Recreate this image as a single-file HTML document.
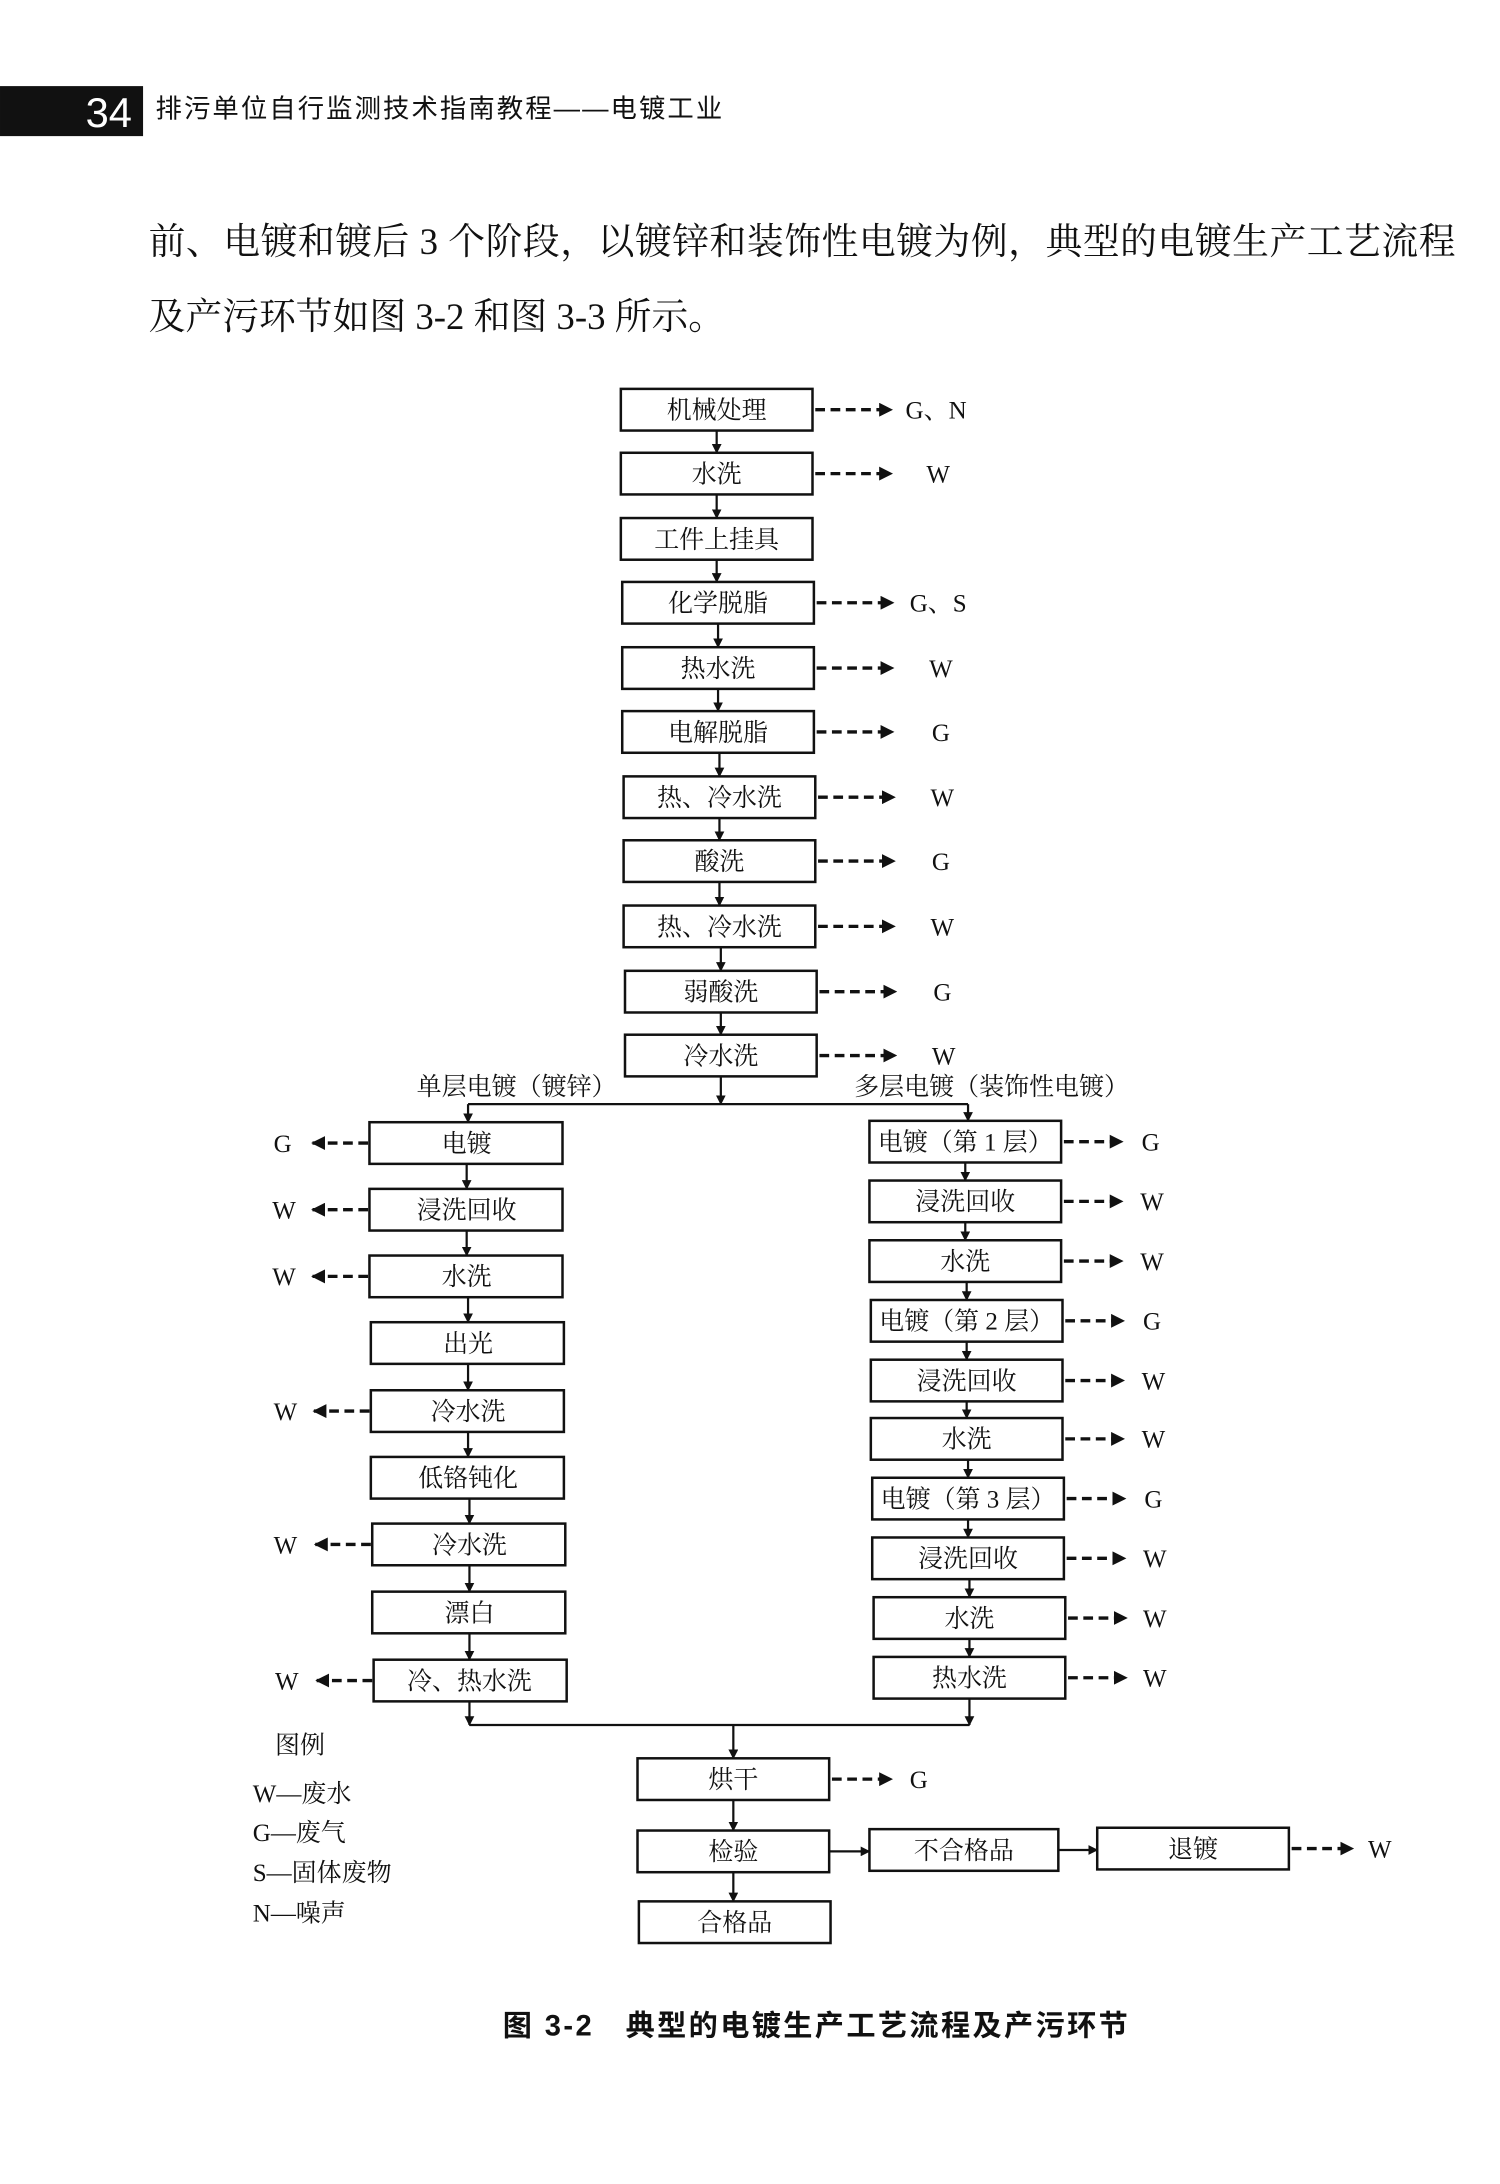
<!DOCTYPE html>
<html><head><meta charset="utf-8"><style>
html,body{margin:0;padding:0;background:#fff;}
svg{display:block;}
.b{font-family:"Liberation Serif","Noto Serif CJK SC",serif;font-size:18px;fill:#111;text-anchor:middle;dominant-baseline:central;}
.l{font-family:"Liberation Serif","Noto Serif CJK SC",serif;font-size:18px;fill:#111;dominant-baseline:central;}
rect{fill:#fff;stroke:#111;stroke-width:1.8;}
line,path.c{stroke:#111;stroke-width:1.6;fill:none;}
.d{stroke-dasharray:7 4;stroke-width:2.4;}
</style></head><body>
<svg width="1500" height="2184" viewBox="0 0 1080 1572.5" xmlns="http://www.w3.org/2000/svg">
<defs><marker id="a" viewBox="0 0 10 10" refX="9" refY="5" markerWidth="7" markerHeight="7" markerUnits="userSpaceOnUse" orient="auto"><path d="M0,0 L10,5 L0,10 z" fill="#111"/></marker>
<marker id="a2" viewBox="0 0 10 10" refX="9" refY="5" markerWidth="10" markerHeight="10" markerUnits="userSpaceOnUse" orient="auto"><path d="M0,0 L10,5 L0,10 z" fill="#111"/></marker></defs>
<rect x="0" y="62" width="103" height="36" style="fill:#111;stroke:none"/>
<text x="95" y="81" style="font-family:'Liberation Sans',sans-serif;font-size:30px;fill:#fff;text-anchor:end;dominant-baseline:central">34</text>
<text x="112" y="78" style="font-family:'Liberation Sans','Noto Sans CJK SC',sans-serif;font-size:19px;fill:#111;dominant-baseline:central" textLength="408">排污单位自行监测技术指南教程——电镀工业</text>
<text x="107" y="174" style="font-family:'Liberation Serif','Noto Serif CJK SC',serif;font-size:26.5px;fill:#111;dominant-baseline:central" textLength="941">前、电镀和镀后 3 个阶段，以镀锌和装饰性电镀为例，典型的电镀生产工艺流程</text>
<text x="107" y="228" style="font-family:'Liberation Serif','Noto Serif CJK SC',serif;font-size:26.5px;fill:#111;dominant-baseline:central">及产污环节如图 3-2 和图 3-3 所示。</text>

<g>
<rect x="447" y="280" width="138" height="30"/><text class="b" x="516" y="296">机械处理</text>
<rect x="447" y="326" width="138" height="30"/><text class="b" x="516" y="342">水洗</text>
<rect x="447" y="373" width="138" height="30"/><text class="b" x="516" y="389">工件上挂具</text>
<rect x="448" y="419" width="138" height="30"/><text class="b" x="517" y="435">化学脱脂</text>
<rect x="448" y="466" width="138" height="30"/><text class="b" x="517" y="482">热水洗</text>
<rect x="448" y="512" width="138" height="30"/><text class="b" x="517" y="528">电解脱脂</text>
<rect x="449" y="559" width="138" height="30"/><text class="b" x="518" y="575">热、冷水洗</text>
<rect x="449" y="605" width="138" height="30"/><text class="b" x="518" y="621">酸洗</text>
<rect x="449" y="652" width="138" height="30"/><text class="b" x="518" y="668">热、冷水洗</text>
<rect x="450" y="699" width="138" height="30"/><text class="b" x="519" y="715">弱酸洗</text>
<rect x="450" y="745" width="138" height="30"/><text class="b" x="519" y="761">冷水洗</text>
</g>
<g marker-end="url(#a)">
<line x1="516" y1="310" x2="516" y2="326"/><line x1="516" y1="356" x2="516" y2="373"/>
<line x1="516" y1="403" x2="516" y2="419"/><line x1="517" y1="449" x2="517" y2="466"/>
<line x1="517" y1="496" x2="517" y2="512"/><line x1="518" y1="542" x2="518" y2="559"/>
<line x1="518" y1="589" x2="518" y2="605"/><line x1="518" y1="635" x2="518" y2="652"/>
<line x1="519" y1="682" x2="519" y2="699"/><line x1="519" y1="729" x2="519" y2="745"/>
</g>
<g marker-end="url(#a2)">
<line class="d" x1="587" y1="295" x2="642" y2="295"/><line class="d" x1="587" y1="341" x2="642" y2="341"/>
<line class="d" x1="588" y1="434" x2="643" y2="434"/><line class="d" x1="588" y1="481" x2="643" y2="481"/>
<line class="d" x1="588" y1="527" x2="643" y2="527"/><line class="d" x1="589" y1="574" x2="644" y2="574"/>
<line class="d" x1="589" y1="620" x2="644" y2="620"/><line class="d" x1="589" y1="667" x2="644" y2="667"/>
<line class="d" x1="590" y1="714" x2="645" y2="714"/><line class="d" x1="590" y1="760" x2="645" y2="760"/>
</g>
<text class="l" x="652" y="296">G、N</text><text class="l" x="667" y="342">W</text>
<text class="l" x="655" y="435">G、S</text><text class="l" x="669" y="482">W</text>
<text class="l" x="671" y="528">G</text><text class="l" x="670" y="575">W</text>
<text class="l" x="671" y="621">G</text><text class="l" x="670" y="668">W</text>
<text class="l" x="672" y="715">G</text><text class="l" x="671" y="761">W</text>

<text class="l" x="300" y="783">单层电镀（镀锌）</text>
<text class="l" x="615" y="783">多层电镀（装饰性电镀）</text>
<line x1="519" y1="775" x2="519" y2="795" marker-end="url(#a)"/>
<line x1="337" y1="795" x2="697" y2="795"/>
<line x1="337" y1="795" x2="337" y2="808" marker-end="url(#a)"/>
<line x1="697" y1="795" x2="697" y2="807" marker-end="url(#a)"/>

<g>
<rect x="266" y="808" width="139" height="30"/><text class="b" x="336" y="824">电镀</text>
<rect x="266" y="856" width="139" height="30"/><text class="b" x="336" y="872">浸洗回收</text>
<rect x="266" y="904" width="139" height="30"/><text class="b" x="336" y="920">水洗</text>
<rect x="267" y="952" width="139" height="30"/><text class="b" x="337" y="968">出光</text>
<rect x="267" y="1001" width="139" height="30"/><text class="b" x="337" y="1017">冷水洗</text>
<rect x="267" y="1049" width="139" height="30"/><text class="b" x="337" y="1065">低铬钝化</text>
<rect x="268" y="1097" width="139" height="30"/><text class="b" x="338" y="1113">冷水洗</text>
<rect x="268" y="1146" width="139" height="30"/><text class="b" x="338" y="1162">漂白</text>
<rect x="269" y="1195" width="139" height="30"/><text class="b" x="338" y="1211">冷、热水洗</text>
</g>
<g marker-end="url(#a)">
<line x1="336" y1="838" x2="336" y2="856"/><line x1="336" y1="886" x2="336" y2="904"/>
<line x1="337" y1="934" x2="337" y2="952"/><line x1="337" y1="982" x2="337" y2="1001"/>
<line x1="337" y1="1031" x2="337" y2="1049"/><line x1="338" y1="1079" x2="338" y2="1097"/>
<line x1="338" y1="1127" x2="338" y2="1146"/><line x1="338" y1="1176" x2="338" y2="1195"/>
</g>
<g marker-end="url(#a2)">
<line class="d" x1="265" y1="823" x2="225" y2="823"/><line class="d" x1="265" y1="871" x2="225" y2="871"/>
<line class="d" x1="265" y1="919" x2="225" y2="919"/><line class="d" x1="266" y1="1016" x2="226" y2="1016"/>
<line class="d" x1="267" y1="1112" x2="227" y2="1112"/><line class="d" x1="268" y1="1210" x2="228" y2="1210"/>
</g>
<text class="l" x="197" y="824">G</text><text class="l" x="196" y="872">W</text><text class="l" x="196" y="920">W</text>
<text class="l" x="197" y="1017">W</text><text class="l" x="197" y="1113">W</text><text class="l" x="198" y="1211">W</text>

<g>
<rect x="626" y="807" width="138" height="30"/><text class="b" x="695" y="823">电镀（第 1 层）</text>
<rect x="626" y="850" width="138" height="30"/><text class="b" x="695" y="866">浸洗回收</text>
<rect x="626" y="893" width="138" height="30"/><text class="b" x="695" y="909">水洗</text>
<rect x="627" y="936" width="138" height="30"/><text class="b" x="696" y="952">电镀（第 2 层）</text>
<rect x="627" y="979" width="138" height="30"/><text class="b" x="696" y="995">浸洗回收</text>
<rect x="627" y="1021" width="138" height="30"/><text class="b" x="696" y="1037">水洗</text>
<rect x="628" y="1064" width="138" height="30"/><text class="b" x="697" y="1080">电镀（第 3 层）</text>
<rect x="628" y="1107" width="138" height="30"/><text class="b" x="697" y="1123">浸洗回收</text>
<rect x="629" y="1150" width="138" height="30"/><text class="b" x="698" y="1166">水洗</text>
<rect x="629" y="1193" width="138" height="30"/><text class="b" x="698" y="1209">热水洗</text>
</g>
<g marker-end="url(#a)">
<line x1="695" y1="837" x2="695" y2="850"/><line x1="695" y1="880" x2="695" y2="893"/>
<line x1="696" y1="923" x2="696" y2="936"/><line x1="696" y1="966" x2="696" y2="979"/>
<line x1="696" y1="1009" x2="696" y2="1021"/><line x1="697" y1="1051" x2="697" y2="1064"/>
<line x1="697" y1="1094" x2="697" y2="1107"/><line x1="698" y1="1137" x2="698" y2="1150"/>
<line x1="698" y1="1180" x2="698" y2="1193"/>
</g>
<g marker-end="url(#a2)">
<line class="d" x1="766" y1="822" x2="808" y2="822"/><line class="d" x1="766" y1="865" x2="808" y2="865"/>
<line class="d" x1="766" y1="908" x2="808" y2="908"/><line class="d" x1="767" y1="951" x2="809" y2="951"/>
<line class="d" x1="767" y1="994" x2="809" y2="994"/><line class="d" x1="767" y1="1036" x2="809" y2="1036"/>
<line class="d" x1="768" y1="1079" x2="810" y2="1079"/><line class="d" x1="768" y1="1122" x2="810" y2="1122"/>
<line class="d" x1="769" y1="1165" x2="811" y2="1165"/><line class="d" x1="769" y1="1208" x2="811" y2="1208"/>
</g>
<text class="l" x="822" y="823">G</text><text class="l" x="821" y="866">W</text><text class="l" x="821" y="909">W</text>
<text class="l" x="823" y="952">G</text><text class="l" x="822" y="995">W</text><text class="l" x="822" y="1037">W</text>
<text class="l" x="824" y="1080">G</text><text class="l" x="823" y="1123">W</text><text class="l" x="823" y="1166">W</text>
<text class="l" x="823" y="1209">W</text>

<line x1="338" y1="1225" x2="338" y2="1242" marker-end="url(#a)"/>
<line x1="698" y1="1223" x2="698" y2="1242" marker-end="url(#a)"/>
<line x1="338" y1="1242" x2="698" y2="1242"/>
<line x1="528" y1="1242" x2="528" y2="1266" marker-end="url(#a)"/>

<rect x="459" y="1266" width="138" height="30"/><text class="b" x="528" y="1282">烘干</text>
<line class="d" x1="599" y1="1281" x2="642" y2="1281" marker-end="url(#a2)"/>
<text class="l" x="655" y="1282">G</text>
<line x1="528" y1="1296" x2="528" y2="1318" marker-end="url(#a)"/>
<rect x="459" y="1318" width="138" height="30"/><text class="b" x="528" y="1334">检验</text>
<line x1="597" y1="1333" x2="626" y2="1333" marker-end="url(#a)"/>
<rect x="626" y="1317" width="136" height="30"/><text class="b" x="694" y="1333">不合格品</text>
<line x1="762" y1="1332" x2="790" y2="1332" marker-end="url(#a)"/>
<rect x="790" y="1316" width="138" height="30"/><text class="b" x="859" y="1332">退镀</text>
<line class="d" x1="930" y1="1331" x2="974" y2="1331" marker-end="url(#a2)"/>
<text class="l" x="985" y="1332">W</text>
<line x1="528" y1="1348" x2="528" y2="1369" marker-end="url(#a)"/>
<rect x="460" y="1369" width="138" height="30"/><text class="b" x="529" y="1385">合格品</text>

<text class="l" x="198" y="1257">图例</text>
<text class="l" x="182" y="1292">W—废水</text>
<text class="l" x="182" y="1320">G—废气</text>
<text class="l" x="182" y="1349">S—固体废物</text>
<text class="l" x="182" y="1378">N—噪声</text>

<text x="362" y="1459" style="font-family:'Liberation Sans','Noto Sans CJK SC',sans-serif;font-size:21px;font-weight:bold;fill:#111;dominant-baseline:central" textLength="450">图 3-2　典型的电镀生产工艺流程及产污环节</text>
</svg>
</body></html>
